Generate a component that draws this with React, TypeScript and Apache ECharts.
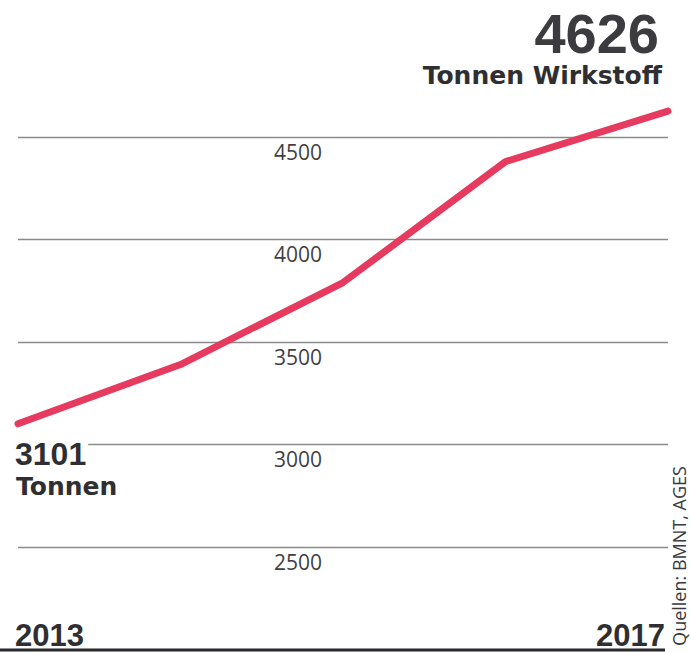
import React, { useEffect, useRef } from "react";
import * as echarts from "echarts";

const years = ["2013", "2014", "2015", "2016", "2017"];
const tonnes = [3101, 3390, 3790, 4380, 4626];
const yTicks = [2500, 3000, 3500, 4000, 4500];

const W = 691;
const H = 653;

export default function App() {
  const ref = useRef<HTMLDivElement>(null);
  useEffect(() => {
    if (!ref.current) return;
    const chart = echarts.init(ref.current, undefined, { renderer: "svg" });
    const g = "#8a8a8a";
    chart.setOption({
      animation: false,
      backgroundColor: "#ffffff",
      grid: { left: 18, right: 23, top: 34.5, bottom: 3.5, containLabel: false },
      xAxis: {
        type: "category",
        data: years,
        boundaryGap: false,
        axisLine: { show: false },
        axisTick: { show: false },
        splitLine: { show: false },
        axisLabel: { show: false },
      },
      yAxis: {
        type: "value",
        min: 2000,
        max: 5000,
        interval: 500,
        axisLine: { show: false },
        axisTick: { show: false },
        splitLine: {
          show: true,
          lineStyle: { color: ["rgba(0,0,0,0)", g, g, g, g, g, "rgba(0,0,0,0)"], width: 1.3 },
        },
        axisLabel: {
          inside: true,
          margin: 280,
          align: "center",
          verticalAlign: "top",
          padding: [4, 0, 0, 0],
          fontFamily: "Open Sans",
          fontSize: 21,
          color: "#3f3f44",
          formatter: (v: number) => (yTicks.includes(v) ? String(v) : ""),
        },
      },
      series: [
        {
          type: "line",
          data: tonnes,
          symbol: "none",
          lineStyle: { color: "#e63a5e", width: 7, cap: "round", join: "round" },
          z: 5,
        },
      ],
      graphic: [
        {
          type: "line",
          z: 100,
          shape: { x1: 0, y1: 650, x2: 665, y2: 650 },
          style: { stroke: "#2a2a2e", lineWidth: 3 },
        },
        {
          type: "text",
          z: 100,
          x: 659,
          y: 33,
          style: {
            text: "4626",
            textAlign: "right",
            textVerticalAlign: "middle",
            font: "bold 56px 'Liberation Sans Narrow', 'Arial Narrow', sans-serif",
            fill: "#3b3b40",
          },
        },
        {
          type: "text",
          z: 100,
          x: 662,
          y: 75,
          style: {
            text: "Tonnen Wirkstoff",
            textAlign: "right",
            textVerticalAlign: "middle",
            font: "bold 25px 'DejaVu Sans', sans-serif",
            fill: "#2f2f33",
          },
        },
        {
          type: "text",
          z: 100,
          x: 15,
          y: 454,
          style: {
            text: "3101",
            textAlign: "left",
            textVerticalAlign: "middle",
            font: "bold 32px 'Liberation Sans', Arial, sans-serif",
            fill: "#2f2f33",
            backgroundColor: "#ffffff",
            padding: [0, 2, 0, 0],
          },
        },
        {
          type: "text",
          z: 100,
          x: 16,
          y: 486,
          style: {
            text: "Tonnen",
            textAlign: "left",
            textVerticalAlign: "middle",
            font: "bold 25px 'DejaVu Sans', sans-serif",
            fill: "#2f2f33",
          },
        },
        {
          type: "text",
          z: 100,
          x: 15,
          y: 635,
          style: {
            text: "2013",
            textAlign: "left",
            textVerticalAlign: "middle",
            font: "bold 31px 'Liberation Sans', Arial, sans-serif",
            fill: "#2f2f33",
          },
        },
        {
          type: "text",
          z: 100,
          x: 665,
          y: 635,
          style: {
            text: "2017",
            textAlign: "right",
            textVerticalAlign: "middle",
            font: "bold 31px 'Liberation Sans', Arial, sans-serif",
            fill: "#2f2f33",
          },
        },
        {
          type: "text",
          z: 100,
          x: 679,
          y: 556,
          rotation: Math.PI / 2,
          style: {
            text: "Quellen: BMNT, AGES",
            textAlign: "center",
            textVerticalAlign: "middle",
            font: "18px 'Open Sans', sans-serif",
            fill: "#3a3a3e",
          },
        },
      ],
    });
    return () => chart.dispose();
  }, []);
  return (
    <div
      ref={ref}
      style={{ position: "absolute", left: 0, top: 0, width: W, height: H }}
    />
  );
}
